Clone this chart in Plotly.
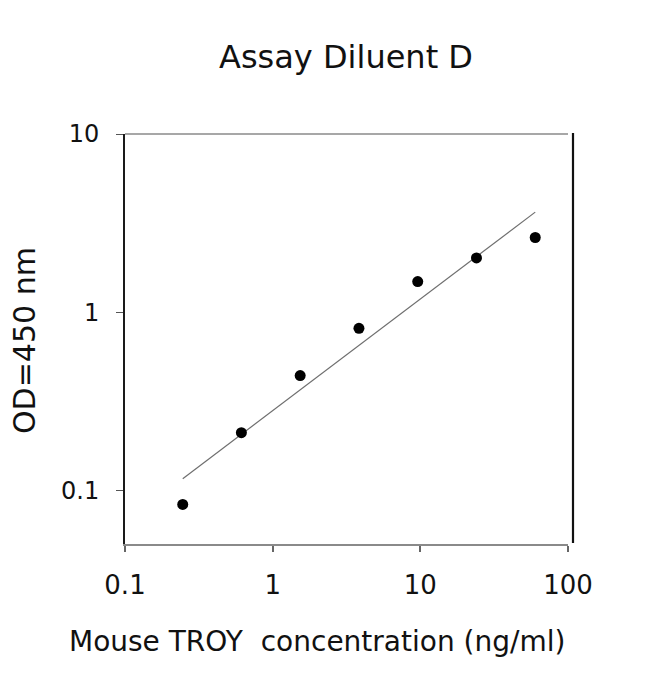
import numpy as np
import plotly.graph_objects as go

# standard curve, 2.5-fold dilution series
conc = [0.246, 0.614, 1.536, 3.84, 9.6, 24, 60]
od = [0.084, 0.212, 0.443, 0.815, 1.49, 2.02, 2.63]

x_ticks = [0.1, 1, 10, 100]
x_tick_text = ["0.1", "1", "10", "100"]
y_ticks = [0.1, 1, 10]
y_tick_text = ["0.1", "1", "10"]

# log-log linear fit drawn across the data span
slope, icpt = np.polyfit(np.log10(conc), np.log10(od), 1)
fit_x = [conc[0], conc[-1]]
fit_y = [10 ** (icpt + slope * np.log10(v)) for v in fit_x]

font = "DejaVu Sans"
W, H = 650, 674
off = 8  # page body margin
L, T = 125 - off, 134 - off
R, B = W - (568 - off), H - (544 - off)
pw, ph = W - L - R, H - T - B


def px(x):
  return (x - off - L) / pw


def py(y):
  return (H - B - (y - off)) / ph


fig = go.Figure()
fig.add_scatter(x=fit_x, y=fit_y, mode="lines",
                line=dict(color="#6e6e6e", width=1.2), hoverinfo="skip")
fig.add_scatter(x=conc, y=od, mode="markers",
                marker=dict(color="black", size=11, line=dict(width=0)))

fig.update_layout(
  width=W, height=H,
  margin=dict(l=L, r=R, t=T, b=B),
  paper_bgcolor="white", plot_bgcolor="white",
  showlegend=False,
  font=dict(family=font, color="#111111"),
  title=dict(text="Assay Diluent D", x=(346 - off) / W, xanchor="center",
             y=1 - (57 - off) / H, yanchor="middle", font=dict(size=32, family=font)),
)
fig.update_xaxes(
  type="log", range=[-1, 2], tickvals=x_ticks, ticktext=x_tick_text,
  showgrid=False, zeroline=False,
  showline=True, linecolor="#8a8a8a", linewidth=1.6,
  ticks="outside", ticklen=6, tickwidth=1.6, tickcolor="#666666",
  ticklabelstandoff=11, tickfont=dict(size=26, family=font),
)
fig.update_yaxes(
  type="log", range=[np.log10(0.0504), 1], tickvals=y_ticks, ticktext=y_tick_text,
  showgrid=False, zeroline=False,
  showline=True, linecolor="#1a1a1a", linewidth=2,
  ticks="outside", ticklen=7, tickwidth=1.2, tickcolor="#555555",
  ticklabelstandoff=12, tickfont=dict(size=24, family=font),
)

# top grey border and the slightly offset black right border
fig.add_shape(type="line", xref="paper", yref="paper", x0=0, x1=1, y0=1, y1=1,
              line=dict(color="#8a8a8a", width=1.6))
fig.add_shape(type="line", xref="paper", yref="paper",
              x0=px(573), x1=px(573), y0=py(543), y1=py(133),
              line=dict(color="#111111", width=2.2))

fig.add_annotation(text="Mouse TROY  concentration (ng/ml)", xref="paper", yref="paper",
                   x=px(317), y=py(641), xanchor="center", yanchor="middle",
                   showarrow=False, font=dict(size=28, family=font))
fig.add_annotation(text="OD=450 nm", xref="paper", yref="paper", textangle=-90,
                   x=px(24), y=py(341), xanchor="center", yanchor="middle",
                   showarrow=False, font=dict(size=30, family=font))

fig.write_html("out.html")
